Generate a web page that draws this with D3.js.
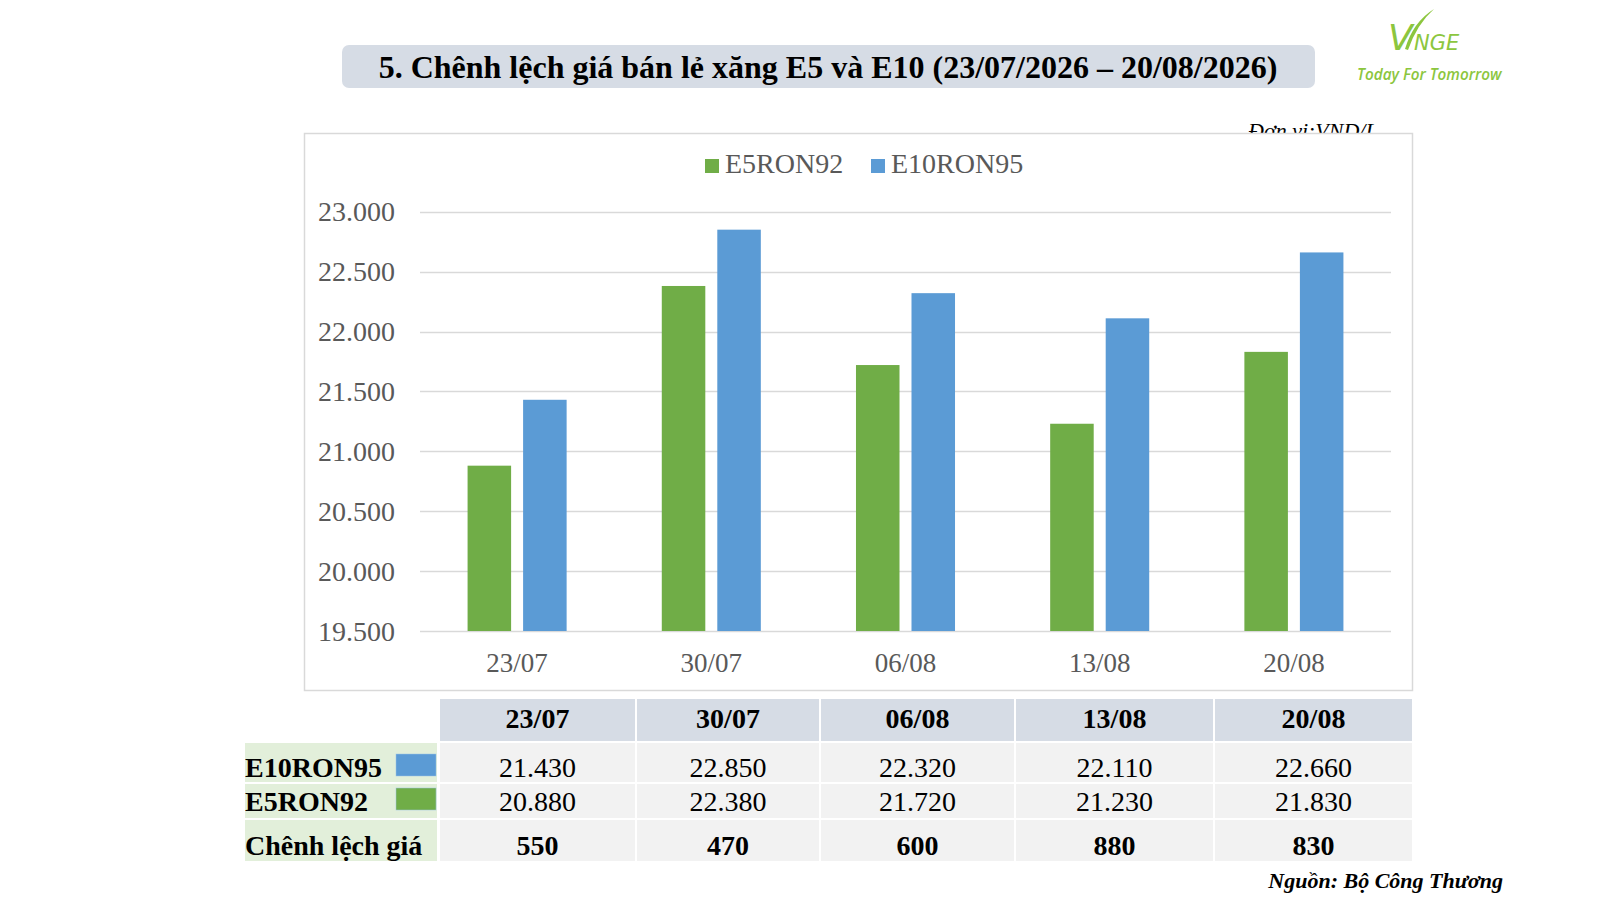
<!DOCTYPE html>
<html><head><meta charset="utf-8">
<script src="https://cdn.jsdelivr.net/npm/d3@7"></script>
<style>html,body{margin:0;padding:0;background:#fff;}svg{display:block;}</style>
</head><body>
<svg id="c" width="1600" height="900"></svg>
<script>
const categories = ["23/07","30/07","06/08","13/08","20/08"];
const e5ron92 = [20880,22380,21720,21230,21830];
const e10ron95 = [21430,22850,22320,22110,22660];
const diff = [550,470,600,880,830];
const yTicks = [19500,20000,20500,21000,21500,22000,22500,23000];
const seriesNames = ["E5RON92","E10RON95"];
const colors = {E5RON92:"#70ad47", E10RON95:"#5b9bd5"};
const titleText = "5. Chênh lệch giá bán lẻ xăng E5 và E10 (23/07/2026 – 20/08/2026)";

// table layout (column edges, pixels)
const colEdges = [440,637,821,1016,1215,1414];

const svg = d3.select("#c");
const serif = "'Liberation Serif','Times New Roman',serif";
const fmt = v => d3.format(",")(v).replace(/,/g,".");

// Title box
svg.append("rect").attr("x",342).attr("y",45).attr("width",973).attr("height",43).attr("rx",7).attr("fill","#d6dce5");
svg.append("text").attr("x",828).attr("y",78).attr("text-anchor","middle")
  .attr("font-family",serif).attr("font-weight","bold").attr("font-size",32).attr("fill","#000").text(titleText);

// Logo
const logo = svg.append("g").attr("fill","#8cc63e");
logo.append("text").attr("x",1388).attr("y",50).attr("font-family","'DejaVu Sans',sans-serif").attr("font-size",36).attr("font-style","italic").text("V");
logo.append("path").attr("d","M1405,49 Q1413,22 1434,9 Q1417,24 1408,50 Z");
logo.append("text").attr("x",1414).attr("y",50).attr("font-family","'DejaVu Sans',sans-serif").attr("font-size",21).attr("font-style","italic").text("NGE");
logo.append("text").attr("x",1357).attr("y",80).attr("font-family","'Open Sans',sans-serif").attr("font-size",15.3).attr("font-weight","600").attr("font-style","italic").text("Today For Tomorrow");

// Unit text (partially hidden behind frame)
svg.append("text").attr("x",1248).attr("y",138).attr("font-family",serif).attr("font-style","italic").attr("font-size",22).attr("fill","#000").text("Đơn vị:VND/L");

// Chart frame
svg.append("rect").attr("x",304.5).attr("y",133.5).attr("width",1108).attr("height",557).attr("fill","#fff").attr("stroke","#d9d9d9").attr("stroke-width",1.5);

const x0 = d3.scaleBand().domain(categories).range([420,1391]);
const bw = x0.bandwidth();
const x1 = d3.scaleBand().domain(seriesNames).range([bw*0.245, bw*0.755]).paddingInner(0.216);
const y = d3.scaleLinear().domain([19500,23000]).range([631,211.7]);

// gridlines
svg.append("g").selectAll("line").data(yTicks).join("line")
  .attr("x1",420).attr("x2",1391).attr("y1",d=>Math.round(y(d))+0.5).attr("y2",d=>Math.round(y(d))+0.5)
  .attr("stroke","#d9d9d9").attr("stroke-width",1.5);

// y axis labels
const yAxis = d3.axisLeft(y).tickValues(yTicks).tickFormat(fmt).tickSize(0).tickPadding(0);
const yg = svg.append("g").attr("transform","translate(395,0)").call(yAxis);
yg.select(".domain").remove();
yg.selectAll("text").attr("font-family",serif).attr("font-size",28).attr("fill","#595959").attr("dy","0.33em");

// bars
const data = categories.map((c,i)=>({cat:c, vals:[{k:"E5RON92",v:e5ron92[i]},{k:"E10RON95",v:e10ron95[i]}]}));
const grp = svg.append("g").selectAll("g").data(data).join("g").attr("transform",d=>`translate(${x0(d.cat)},0)`);
grp.selectAll("rect").data(d=>d.vals).join("rect")
  .attr("x",d=>x1(d.k)).attr("width",x1.bandwidth())
  .attr("y",d=>y(d.v)).attr("height",d=>y(19500)-y(d.v)).attr("fill",d=>colors[d.k]);

// x axis labels
const xAxis = d3.axisBottom(x0).tickSize(0).tickPadding(0);
const xg = svg.append("g").attr("transform","translate(0,672)").call(xAxis);
xg.select(".domain").remove();
xg.selectAll("text").attr("font-family",serif).attr("font-size",27).attr("fill","#595959").attr("dy",0);

// legend
const lg = svg.append("g");
const legX = [705, 871];
seriesNames.forEach((s,i)=>{
  lg.append("rect").attr("x",legX[i]).attr("y",159).attr("width",14).attr("height",14).attr("fill",colors[s]);
  lg.append("text").attr("x",legX[i]+20).attr("y",173).attr("font-family",serif).attr("font-size",28).attr("fill","#595959").text(s);
});

// table
const colX = i => colEdges[i];
const colW = i => colEdges[i+1]-colEdges[i]-2;
const rows = [
  {key:"E10RON95", y0:743, y1:782, base:777, vals:e10ron95.map(fmt), bold:false},
  {key:"E5RON92", y0:784, y1:818, base:811, vals:e5ron92.map(fmt), bold:false},
  {key:"Chênh lệch giá", y0:820, y1:861, base:855, vals:diff.map(String), bold:true}
];
const tb = svg.append("g");
categories.forEach((c,i)=>{
  tb.append("rect").attr("x",colX(i)).attr("y",699).attr("width",colW(i)).attr("height",42).attr("fill","#d6dce5");
  tb.append("text").attr("x",colX(i)+colW(i)/2).attr("y",728).attr("text-anchor","middle")
    .attr("font-family",serif).attr("font-weight","bold").attr("font-size",28).text(c);
});
rows.forEach(r=>{
  tb.append("rect").attr("x",245).attr("y",r.y0).attr("width",192).attr("height",r.y1-r.y0).attr("fill","#e2efda");
  tb.append("text").attr("x",245).attr("y",r.base).attr("font-family",serif).attr("font-weight","bold").attr("font-size",28).text(r.key);
  if (colors[r.key]) {
    tb.append("rect").attr("x",396).attr("y",r.base-23).attr("width",40).attr("height",22).attr("fill",colors[r.key]).attr("stroke","#9dc3e6").attr("stroke-width",0.5);
  }
  categories.forEach((c,i)=>{
    tb.append("rect").attr("x",colX(i)).attr("y",r.y0).attr("width",colW(i)).attr("height",r.y1-r.y0).attr("fill","#f2f2f2");
    tb.append("text").attr("x",colX(i)+colW(i)/2).attr("y",r.base).attr("text-anchor","middle")
      .attr("font-family",serif).attr("font-weight",r.bold?"bold":"normal").attr("font-size",28).text(r.vals[i]);
  });
});

// source
svg.append("text").attr("x",1503).attr("y",888).attr("text-anchor","end").attr("font-family",serif)
  .attr("font-weight","bold").attr("font-style","italic").attr("font-size",22).text("Nguồn: Bộ Công Thương");
</script>
</body></html>
